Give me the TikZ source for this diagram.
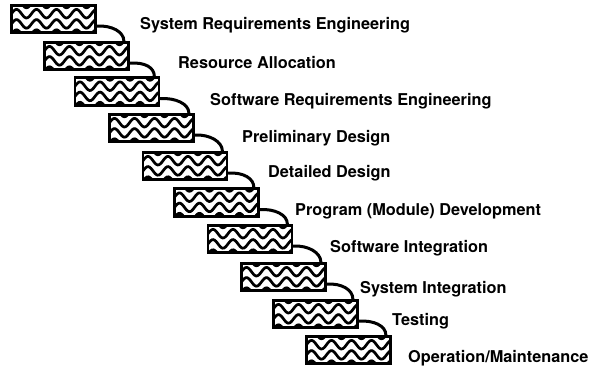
\documentclass[tikz,border=0pt]{standalone}
\usepackage{fontspec}
\setmainfont{TeX Gyre Heros}
\usepackage{tikz}
\usetikzlibrary{positioning}

\begin{document}
\begin{tikzpicture}[
  x=1pt, y=1pt,
  phase/.style={draw, line width=2.7pt, minimum width=84pt, minimum height=27.5pt,
                inner sep=0pt, fill=white,
                path picture={
                  \foreach \dy in {0,10.2,20.4,30.6}
                    \draw[line width=2.7pt]
                      plot[domain=-46:46, samples=70, smooth] (\x, {15.5 - \dy + 4.3*sin((\x+42)*18)});
                }},
  phasename/.style={anchor=base west, inner sep=0pt,
                    font=\fontsize{16.3}{18}\selectfont\bfseries},
  link/.style={line width=3pt, line cap=round},
]
\useasboundingbox (0,0) rectangle (592,368);

\node[phase] (sysreq)  at (53.5,349)  {};
\node[phase] (alloc)   at (86.5,312)  {};
\node[phase] (swreq)   at (117,276.5) {};
\node[phase] (prelim)  at (151.5,240) {};
\node[phase] (detail)  at (185,202)   {};
\node[phase] (progdev) at (216.5,165.5) {};
\node[phase] (swint)   at (250,129)   {};
\node[phase] (sysint)  at (283.5,91)  {};
\node[phase] (test)    at (315.5,54)  {};
\node[phase] (opmaint) at (348.5,18)  {};

\node[phasename] (sysreqtxt)  at (140,338) {System Requirements Engineering};
\node[phasename] (alloctxt)   at (178,300) {Resource Allocation};
\node[phasename] (swreqtxt)   at (210,263) {Software Requirements Engineering};
\node[phasename] (prelimtxt)  at (242,226) {Preliminary Design};
\node[phasename] (detailtxt)  at (268,191) {Detailed Design};
\node[phasename] (progdevtxt) at (295,153) {Program (Module) Development};
\node[phasename] (swinttxt)   at (330,116) {Software Integration};
\node[phasename] (sysinttxt)  at (360,75)  {System Integration};
\node[phasename] (testtxt)    at (392,43)  {Testing};
\node[phasename] (opmainttxt) at (408,6)   {Operation/Maintenance};

\draw[link] ([yshift=8]sysreq.south east)  .. controls +(15,1) and +(0,9) .. ([xshift=-6]alloc.north east);
\draw[link] ([yshift=8]alloc.south east)   .. controls +(15,1) and +(0,9) .. ([xshift=-6]swreq.north east);
\draw[link] ([yshift=8]swreq.south east)   .. controls +(15,1) and +(0,9) .. ([xshift=-6]prelim.north east);
\draw[link] ([yshift=8]prelim.south east)  .. controls +(15,1) and +(0,9) .. ([xshift=-6]detail.north east);
\draw[link] ([yshift=8]detail.south east)  .. controls +(15,1) and +(0,9) .. ([xshift=-6]progdev.north east);
\draw[link] ([yshift=8]progdev.south east) .. controls +(15,1) and +(0,9) .. ([xshift=-6]swint.north east);
\draw[link] ([yshift=8]swint.south east)   .. controls +(15,1) and +(0,9) .. ([xshift=-6]sysint.north east);
\draw[link] ([yshift=8]sysint.south east)  .. controls +(15,1) and +(0,9) .. ([xshift=-6]test.north east);
\draw[link] ([yshift=8]test.south east)    .. controls +(15,1) and +(0,9) .. ([xshift=-6]opmaint.north east);
\end{tikzpicture}
\end{document}
